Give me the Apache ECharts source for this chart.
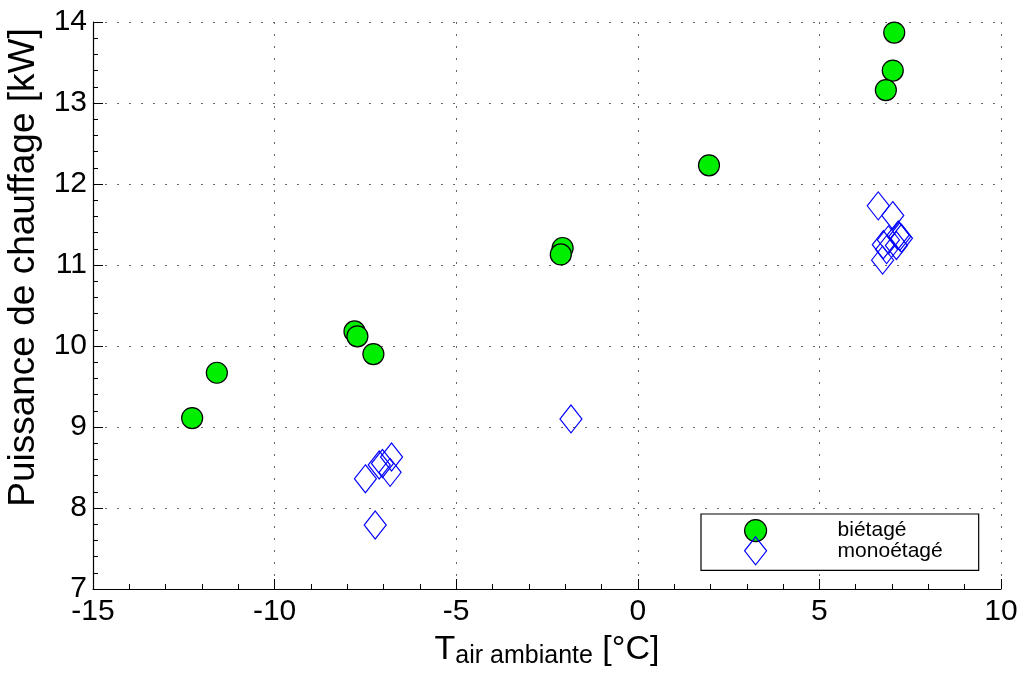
<!DOCTYPE html>
<html>
<head>
<meta charset="utf-8">
<script src="https://cdn.jsdelivr.net/npm/echarts@6/dist/echarts.min.js"></script>
<style>
  html, body { margin: 0; padding: 0; background: #fff; }
  #chart { width: 1025px; height: 675px; }
</style>
</head>
<body>
<div id="chart"></div>
<script>
// Outdoor air temperature [°C] and heating power [kW], two-stage unit
const bietageTemp  = [-12.27, -11.59, -7.80, -7.72, -7.28, -2.07, -2.12, 1.96, 7.06, 7.02, 6.83];
const bietagePower = [9.11, 9.67, 10.18, 10.12, 9.90, 11.21, 11.13, 12.23, 13.87, 13.40, 13.16];

// Single-stage unit
const monoTemp  = [-7.50, -7.12, -7.03, -6.78, -6.82, -7.23, -1.84, 6.62, 7.02, 7.17, 7.21, 7.26, 6.90, 6.76, 7.12, 6.85, 6.74];
const monoPower = [8.36, 8.53, 8.55, 8.63, 8.44, 7.79, 9.10, 11.73, 11.61, 11.37, 11.35, 11.33, 11.31, 11.25, 11.24, 11.19, 11.06];

const seriesNames = ['biétagé', 'monoétagé'];
const xTicks = { min: -15, max: 10, step: 5 };
const yTicks = { min: 7, max: 14, step: 1 };

const pairs = (xs, ys) => xs.map((x, i) => [x, ys[i]]);

const narrow = '"Liberation Sans Narrow", "Liberation Sans", Arial, sans-serif';
const regular = '"Liberation Sans", Arial, sans-serif';

const gridLine = { show: true, lineStyle: { color: '#666', width: 1, type: [2, 10] } };
const axisLine = { show: true, onZero: false, lineStyle: { color: '#000', width: 1.2 } };

const chart = echarts.init(document.getElementById('chart'));
chart.setOption({
  animation: false,
  backgroundColor: '#fff',
  grid: { left: 93, top: 22, right: 24, bottom: 86, containLabel: false, outerBoundsMode: 'none' },
  xAxis: {
    type: 'value',
    min: xTicks.min, max: xTicks.max, interval: xTicks.step,
    axisLine: axisLine,
    axisTick: { show: true, inside: true, length: 10, lineStyle: { color: '#000', width: 1 } },
    minorTick: { show: true, splitNumber: 5, length: 5, lineStyle: { color: '#000', width: 1 } },
    splitLine: gridLine,
    axisLabel: { color: '#000', fontFamily: narrow, fontSize: 30, margin: 8 },
    name: '{t|T}{s|air ambiante}{t| [°C]}',
    nameLocation: 'middle',
    nameGap: 44,
    nameTextStyle: {
      rich: {
        t: { fontFamily: narrow, fontSize: 34, color: '#000', lineHeight: 36, verticalAlign: 'top' },
        s: { fontFamily: narrow, fontSize: 25, color: '#000', lineHeight: 24, verticalAlign: 'bottom' }
      }
    }
  },
  yAxis: {
    type: 'value',
    min: yTicks.min, max: yTicks.max, interval: yTicks.step,
    axisLine: axisLine,
    axisTick: { show: true, inside: true, length: 10, lineStyle: { color: '#000', width: 1 } },
    minorTick: { show: true, splitNumber: 5, length: 5, lineStyle: { color: '#000', width: 1 } },
    splitLine: gridLine,
    axisLabel: { color: '#000', fontFamily: narrow, fontSize: 30, margin: 6 },
    name: 'Puissance de chauffage [kW]',
    nameLocation: 'middle',
    nameGap: 49,
    nameTextStyle: { color: '#000', fontFamily: regular, fontSize: 37, padding: [0, 0, 0, 76] }
  },
  legend: {
    left: 701, top: 514,
    orient: 'vertical',
    itemWidth: 22, itemHeight: 28, itemGap: -6,
    padding: [5, 36, 5, 43],
    backgroundColor: '#fff',
    borderColor: '#000', borderWidth: 1.2, borderRadius: 0,
    selectedMode: false,
    textStyle: { color: '#000', fontFamily: regular, fontSize: 21, padding: [0, 0, 0, 66] },
    data: [
      { name: seriesNames[0], icon: 'circle',
        itemStyle: { color: '#00ee00', borderColor: '#000', borderWidth: 1.2 } },
      { name: seriesNames[1], icon: 'path://M11,0L22,14L11,28L0,14Z',
        itemStyle: { color: 'rgba(0,0,0,0)', borderColor: '#0000ff', borderWidth: 1.2 } }
    ]
  },
  series: [
    {
      name: seriesNames[0],
      type: 'scatter',
      symbol: 'circle',
      symbolSize: 21,
      itemStyle: { color: '#00ee00', borderColor: '#000', borderWidth: 1.2, opacity: 1 },
      data: pairs(bietageTemp, bietagePower),
      z: 3
    },
    {
      name: seriesNames[1],
      type: 'scatter',
      symbol: 'diamond',
      symbolSize: [22, 28],
      itemStyle: { color: 'rgba(0,0,0,0)', borderColor: '#0000ff', borderWidth: 1.2, opacity: 1 },
      data: pairs(monoTemp, monoPower),
      z: 2
    }
  ]
});
</script>
</body>
</html>
